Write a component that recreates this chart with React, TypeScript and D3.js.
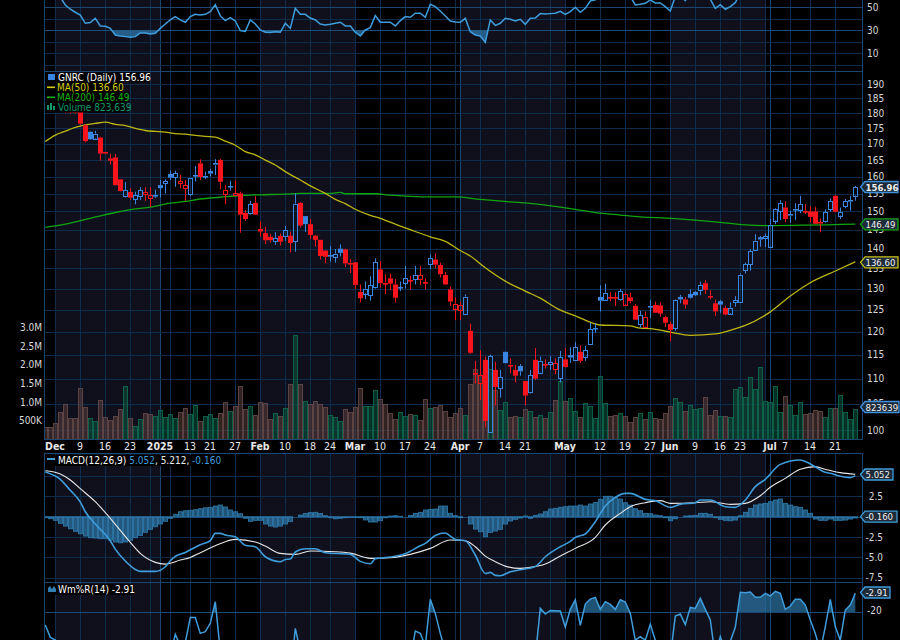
import React from "react";
import * as d3 from "d3";

// GNRC daily. Index 0 is the partly clipped first session.
const opens = [
  184,183,183,182.5,181.5,181,181.5,180.5,176,173.9,
  171.8,172,167.4,165.5,165.8,159.2,154.3,155.5,153.4,154.2,
  154.8,153.7,154.6,157.5,158,160.8,159.8,158,156.6,154.9,
  160.3,164,160.2,161.7,163.4,165,155,157.1,154.4,155.1,
  149.6,149.5,152.4,145.2,144.1,143.1,141.9,143.3,143.2,143.4,
  142,152.4,148.7,146.5,143.4,142.3,139.5,138.2,137.9,140,
  139.8,136.4,136.5,129.2,128.9,128.3,130.2,134.7,131.4,132.5,
  131,130.2,131.4,132,132.3,132.3,131.6,135.9,137.2,135.8,
  133.3,129.8,125.3,125,124.2,120.2,111.1,109,113.9,99.6,
  111.8,108,115.6,112.9,111.8,112.6,109.5,107.2,113.9,111.2,
  113,112.9,111.9,110,114,114.9,113.8,115.6,114.6,117.2,
  120.7,128,127.4,128,127.9,127.3,126.3,127.9,125.9,121.6,
  121.2,125.8,126.1,126,123.3,121.7,120.7,128,127.4,128.7,
  129.2,129.6,131.3,128.3,126.5,127,125.4,124.2,126.7,126.8,
  134.5,136,139.7,143,142.7,140.5,147.5,150.2,151.1,148.7,
  150.7,150.5,150.2,150,150,147,147.4,150.6,154.4,148.9,
  151.4,152.7,154.5,
];
const closes = [
  183,182.5,182,181.8,180.3,180.2,180.1,176.5,170.9,171.5,
  173.3,167,166.9,164.8,157.5,155.8,156,153.9,154.5,156,
  155.5,154.5,154.7,156.6,158.7,159.7,161,158.7,157.4,159.5,
  160.4,159.9,160.3,160.9,164,158.5,156.2,157.2,155.1,149.1,
  147.9,152.1,149.1,144.5,142.2,142.2,142.7,141.8,144.8,141.5,
  152.2,146.1,146.5,143.6,142.3,138.1,137.9,138.3,138.7,138.9,
  136.2,135.9,130.9,127.7,130,130.8,136.5,131.3,131.3,131.2,
  127.8,130.3,132.6,131.9,133.4,133.2,131.5,137.5,135.9,133.5,
  131,126.9,126.4,126.2,128.1,115.4,111,110.7,101.7,114.7,
  108.3,110.3,113.2,112.8,110.6,111.5,106.6,110.7,110,113.7,
  112.9,113.4,113.2,114.4,112.4,114.4,116.6,113.7,116,120.5,
  120.8,127.1,129,127.9,127.8,129.3,128.8,127,122.7,123.7,
  123.4,125.9,124.3,124.1,122,120.4,127.2,127.4,126.2,127.8,
  128.4,130.8,129.7,128.2,124.6,126.2,123.9,125.5,127.2,133.4,
  136,139.4,142.1,142.4,143.3,146.4,150.7,152.4,147.9,149.2,
  150.8,152.1,149.8,148.5,146.6,146.6,149.8,152.8,149.9,149.9,
  152.8,153.2,156.96,
];
const highs = [
  186,185,184.5,184,183,182,183,181.5,176.3,174,
  174.2,172.3,167.5,166.9,166.9,159.2,158.4,156.6,155.6,156.9,
  156.9,156.9,156.2,159,159.2,161.8,161.8,160.5,159,159.5,
  163.2,165.2,161.5,162.3,165.3,165.3,157.5,158.8,158.9,155.6,
  150.4,153,154.3,147.3,145.8,143.9,144.3,144,146,144.5,
  155.1,152.6,148.7,147.9,143.6,142.3,139.6,140.7,139.9,141.1,
  140,137.3,136.5,131,131.7,133,137.5,136.8,133.5,133.7,
  132.3,131.7,135.6,133.1,135.6,135.6,132.5,138.5,138.8,136.4,
  134.1,130.5,127.9,126.9,128.6,121.8,113.7,116,114.6,115,
  113.5,111.8,115.6,114.2,112.8,113,109.5,111.8,116.4,114.6,
  114,114.7,114.2,115.8,116.4,116.6,117.7,117,116.9,122,
  121.9,130.8,131.2,129.1,129.1,129.9,129.1,129,126.3,124.7,
  124.6,127.3,126.9,126.7,123.6,122.3,127.4,128.5,128,129.8,
  129.4,131.7,132.1,129.6,127.4,127.3,125.9,126.7,128.2,133.7,
  136.4,139.8,143.8,143.3,144,147.9,150.9,153.2,152.8,150.2,
  152.3,154.4,152,151.5,151.3,148,150.6,153.7,154.7,151.1,
  153.5,154.4,157.3,
];
const lows = [
  182.5,181.5,181.5,181,180,179.8,179.8,176.2,170.5,171.3,
  171.3,164.8,166.8,163.6,157.4,155.7,153.9,153.2,152,153.2,
  153,151.2,153.8,154,155.1,159,157,156.6,153,154.4,
  158.5,159,159.3,160,160.5,156.3,152,155.9,154.4,144.2,
  147.4,149.1,149,143.2,141.2,141.6,141,140.8,142,139,
  139.2,145.6,144.4,142.6,140.5,137.2,136.2,136.6,136.4,138,
  135.3,133.8,129.9,126.7,127.5,127.1,130,130.3,128.7,129.6,
  126.7,129.4,130,129.8,131,130.9,129.8,134.8,135,132.7,
  130.9,125.9,122.6,122.6,124.2,115.2,109,105.7,100.5,99.5,
  104.7,106.2,113.2,111.1,109.2,110.6,104.7,107,109.7,110.9,
  112.1,111.8,110.9,109.2,112.3,113.2,113.7,113.3,113.7,117.1,
  119.8,124.6,127.3,127,125.9,127.1,126.1,126.5,122.6,120.9,
  121.1,123.1,124.2,123.4,121,117.9,120.2,126.5,125.3,127.6,
  128.2,128.4,128.7,127.5,123.6,124.3,123.7,124,125.7,126.7,
  133.7,134.4,139.7,140.5,140.4,140.4,146.5,147.6,147,146.9,
  147.6,149.5,149.3,147,146.5,144.3,146.9,149.9,149.8,147.9,
  150.9,150.2,153,
];
// R = closed below the previous close, B = above. Also picks the volume colour.
const tones = [
  "RRRRRRRRRB","BRRRRRBRBB","RRBBBBBRRB","BRBBBRRBRR","RBRRRRBRBR","BRBRRRRBBB",
  "RRRRBBBRRR","RBBRBRRBRR","RRRRBRRRRB","RBBRRBRBRB","RBRBRBBRBB","BBBRRBRRRB",
  "RBRRRRBBRB","BBRRRBRBBB","BBBBBBBBRB","BBRRRRBBRB","BBB",
].join("");
const volumes = [
  .34,.32,.43,.73,.95,.56,.56,1.37,.86,.56,
  .48,1.06,.59,.51,.62,.81,1.42,.56,.35,.54,
  .70,.67,.62,.78,.59,.67,.56,.73,.83,.67,
  .91,.48,.62,.67,.56,.70,.99,.75,.89,1.42,
  .81,.89,.65,.99,.97,.54,.70,.62,.83,1.48,
  2.80,1.49,1.02,.95,1.03,.96,.87,.65,.60,.49,
  .81,.73,.87,1.38,.90,.90,1.32,1.08,.94,.70,
  .54,.73,.63,.68,.65,.51,1.08,.84,.87,.92,
  .75,.60,.71,.84,.65,1.49,1.89,1.73,2.0,1.89,
  1.33,.79,.99,.60,.63,.60,.82,.75,.60,.65,
  .57,.73,1.06,1.57,1.02,1.11,.75,.60,.97,.90,
  .57,1.70,.97,.63,.65,.70,.62,.46,.59,.70,
  .54,.73,.56,.54,.70,.89,1.10,.99,.75,.91,
  .81,.83,1.13,.65,.78,.62,.62,.59,1.34,1.40,
  1.13,1.67,1.34,1.94,1.02,.99,1.42,.73,1.16,.91,
  .65,.99,.67,.70,.78,.75,.59,.83,.83,1.18,
  .73,.54,.82,
];

const ma50Days = [0,2,4,6,8,10,12,14,16,18,20,22,24,26,28,30,32,34,36,38,40,42,44,46,48,51,53,56,58,60,62,65,67,70,73,77,80,83,85,88,92,96,99,103,106,111,117,119,121,125,129,134,137,140,145,149,153,158,162];
const ma50 = [170.8,172.8,174.1,175.3,176.1,176.6,177,176.3,175.9,175,174.3,174,173.8,173.3,173.1,172.7,172.4,172.2,170.9,169.6,167.6,166.6,165,163.5,161.5,159,157.3,155.1,153.4,152.2,150.6,148.9,148.1,146.5,145,143.1,141.9,139.5,138.1,135.1,131.8,129.4,127.7,124.9,123.6,121.5,121.3,120.8,120.7,119.9,119.2,119.5,120.3,121.4,124.5,128.2,131.4,134.3,136.6];
const ma200Days = [0,4,9,14,18,21,25,28,31,35,39,43,48,51,57,59,60,66,69,72,76,82,87,93,98,102,106,111,115,119,125,130,135,140,144,162];
const ma200 = [145.6,146.5,148.1,149.7,150.7,151.2,152.3,152.8,153.5,154,154.5,154.7,154.9,155.1,155.1,155.4,155,155,154.6,154.3,154.1,154.1,153.4,152.7,152.1,151.4,150.6,149.5,149,148.5,148.1,147.6,147,146.3,146.1,146.49];

const macdDays = [0,3,5,7,8,10,13,14,16,18,19,22,24,25,26,28,31,33,34,35,36,38,40,42,44,47,48,49,50,52,54,56,61,63,65,66,69,72,75,76,78,80,81,82,84,86,88,89,90,91,93,95,98,100,103,105,106,108,110,112,114,116,117,120,122,125,127,130,131,133,136,138,140,142,144,147,151,153,156,157,159,161,162];
const macd = [5.49,4.59,3.24,1.8,.61,-.9,-2.95,-3.98,-5.45,-6.48,-6.72,-6.72,-6.15,-5.41,-4.88,-4.39,-3.44,-2.95,-2.05,-2.05,-2.25,-2.46,-3.52,-3.69,-4.92,-5.53,-5.25,-5.2,-4.34,-3.93,-3.93,-4.43,-4.63,-5.49,-5.78,-5.16,-4.96,-4.55,-3.57,-3.28,-2.3,-2.01,-2.38,-2.79,-2.95,-4.71,-6.97,-6.84,-7.21,-7.25,-6.76,-6.52,-6.11,-4.92,-3.69,-3.03,-2.54,-2.13,-.61,1.31,2.38,2.87,2.87,2.13,1.97,1.15,1.52,1.72,2.05,2.05,1.23,1.15,2.05,3.69,4.59,6.43,6.97,6.48,5.45,5.33,4.96,4.8,5.052];
const signalDays = [0,3,5,7,10,13,17,19,22,24,27,29,31,34,36,38,42,44,47,50,53,58,61,65,69,73,77,81,84,86,88,90,92,95,97,100,103,106,110,112,115,117,120,123,125,130,133,137,140,143,145,148,151,154,156,159,162];
const signal = [5.65,5.25,4.51,3.44,1.84,-.2,-3.16,-4.51,-5.61,-5.82,-5.33,-5,-4.43,-3.57,-3.07,-2.79,-3.11,-3.61,-4.51,-4.63,-4.22,-4.3,-4.47,-5.12,-5.04,-4.63,-3.89,-2.87,-2.95,-3.69,-4.84,-5.53,-6.07,-6.35,-6.23,-5.82,-4.84,-3.89,-2.54,-1.02,.41,1.23,1.72,1.97,1.64,1.72,1.84,1.52,1.64,2.58,3.61,4.71,5.82,6.15,5.82,5.41,5.212];
const macdHist = [
  -.1,-.25,-.45,-.82,-1.15,-1.48,-1.8,-2.09,-2.38,-2.58,
  -2.62,-2.7,-2.7,-2.87,-3.11,-3.2,-3.11,-2.9,-2.58,-2.3,
  -1.93,-1.56,-1.23,-.9,-.57,-.2,.29,.61,.74,.78,
  .86,.98,1.1,1.15,1.31,1.43,1.19,.82,.61,.37,
  -.2,-.57,-.45,-.45,-.9,-1.15,-1.27,-1.15,-.9,-.6,
  0,.2,.4,.5,.53,.4,.12,-.12,-.25,-.2,
  -.12,-.08,-.08,-.12,-.4,-.65,-.65,-.49,-.12,.08,
  .12,.04,0,.16,.4,.53,.82,.9,.94,1.31,
  1.31,.41,.12,-.12,0,-.9,-1.52,-1.84,-2.46,-1.93,
  -1.76,-1.56,-.9,-.53,-.33,-.16,.08,-.2,.16,.33,
  .61,.94,1.02,1.15,1.23,1.31,1.31,1.43,1.31,1.56,
  1.76,2.13,2.5,2.5,2.34,2.17,1.72,1.43,.98,.74,
  .41,.37,.2,.12,-.12,-.49,-.25,0,.08,.12,
  .16,.41,.41,.29,-.12,-.33,-.45,-.49,-.41,.12,
  .53,1.02,1.43,1.56,1.64,1.84,2.05,2.17,1.64,1.43,
  1.23,1.15,.82,.41,-.29,-.45,-.45,-.29,-.45,-.45,
  -.41,-.29,-.16,
];

const rsi = [
  70,66,62,58.7,52,48.3,45.7,43.3,36.1,36.7,
  40.4,33.8,33.5,31.7,25.9,25.1,24.5,23.9,24.5,27.7,
  27.7,26.8,27.4,31.7,35.5,39,41.9,39,37,41.9,
  43.9,43.3,43.9,46.2,52.3,42.5,38.4,41,38.1,29.7,
  29.1,39,35.5,30.3,28.3,28,28.8,28.3,36.1,31.7,
  49.1,43.9,43.9,40.7,39,35.5,34.6,35.2,36.1,37,
  33.8,33.8,28.3,25.1,30.3,32.3,42.8,37,37,37,
  33.8,38.4,41.9,41.3,44.8,44.8,41.3,52.6,50.6,46.8,
  42.5,38.1,37.2,37,40.4,28.8,25.9,25.1,19.6,39,
  34.3,36.1,40.4,39.6,38.1,39.6,35.2,40.4,40.7,44.5,
  44.2,44.5,44.8,46.5,43.9,46.2,50,45.7,49.1,55.5,
  56.4,62,60,59,58,60,62,59.3,52,52.6,
  53.5,56.4,53.8,53.8,50.6,46.8,59.3,60,55.8,62,
  64,63,60,57,49.1,52.3,48.3,50.6,54,62,
  68,71,74,75,74,76,78,79,72,73,
  75,76,73,71,68,67,70,73,70,70,
  73,74,77,
];
const williams = [
  -31.4,-42.5,-44.9,-62,-70,-72,-76,-80,-92,-88,
  -84,-90,-88,-90,-96,-94,-88,-92,-85,-80,
  -82,-84,-80,-70,-60,-58,-39.8,-50,-47,-24.6,
  -24.6,-38.9,-37.4,-29.9,-10.5,-55,-70,-62,-68,-90,
  -92,-70,-78,-92,-95,-92,-88,-90,-72,-80,
  -34.4,-55,-52,-70,-80,-92,-92,-90,-86,-80,
  -90,-90,-97,-94,-80,-72,-50,-64,-62,-66,
  -82,-70,-60,-62,-36.8,-38.9,-50,-8.4,-21,-38.9,
  -55,-75,-80,-85,-80,-95,-96,-92,-94,-70,
  -80,-72,-58,-62,-72,-66,-85,-70,-60,-16.5,
  -21.6,-18.3,-18.6,-18.9,-33.2,-17.4,-8.7,-31.7,-12.6,-8.1,
  -6.6,-17.4,-10.5,-12.9,-17.4,-8.7,-10.8,-21,-45,-41.9,
  -45,-30.8,-45,-50,-55,-60,-23.4,-21.6,-31.1,-15.6,
  -16.5,-7.5,-17.4,-26.9,-60,-41.9,-55,-46,-33.5,-2.1,
  -2.4,-1.8,-6.6,-6.6,-3,-5.4,-1.2,-3,-17.4,-14.4,
  -8.4,-8.4,-13.5,-26.9,-38.9,-55,-32.9,-8.4,-32.9,-45,
  -18,-13.5,-2.91,
];

// Session index of each date grid line, and its label ("" = no label drawn).
const gridDays = [2,7,12,17,21,23,25,29,33,38,43,48,53,57,62,67,72,77,82,83,87,92,96,101,104,106,111,116,121,125,130,135,139,144,145,149,153,158];
const gridLabels = ["Dec","9","16","23","","2025","","13","21","27","Feb","10","18","24","Mar","10","17","24","","Apr","7","14","21","","May","","12","19","27","Jun","9","16","23","","Jul","7","14","21"];
const boldLabels = ["Dec","2025","Feb","Mar","Apr","May","Jun","Jul"];
const strongLabels = ["2025","Apr","Jul"];
// Every other month gets the navy band: start and end session.
const bandStarts = [2,43,83,125];
const bandEnds = [23,62,104,144];

const priceTicks = [190,185,180,175,170,165,160,155,150,145,140,135,130,125,120,115,110,105,100];
const volumeTicks = [.5,1,1.5,2,2.5,3];
const rsiGrid = [50,40,30,20,10,0];
const rsiLabels = [50,30,10];
const macdGrid = [5,2.5,0,-2.5,-5,-7.5];
const macdLabels = [2.5,-2.5,-5,-7.5];

const FONT = "'DejaVu Sans Condensed', 'DejaVu Sans', sans-serif";
const GRID = "#0e2c4b";
const GRID_STRONG = "#1a4670";
const BLUE = "#3f9ddc";
const CANDLE_BLUE = "#3a85e0";
const CANDLE_RED = "#f8141c";

const LEFT = 44.5;
const RIGHT = 862.5;

const x = d3.scaleLinear().domain([0, 162]).range([45.3, 855.3]);
const yPrice = d3.scaleLog().domain([100, 190]).range([430, 84]);
const yVolume = d3.scaleLinear().domain([0, 3]).range([439.3, 327.7]);
const yRsi = d3.scaleLinear().domain([0, 50]).range([64.8, 7.3]);
const yMacd = d3.scaleLinear().domain([0, 5]).range([516.7, 476]);
const yWilliams = d3.scaleLinear().domain([0, -20]).range([590, 612.3]);

const px = (v: number) => Math.round(v) + 0.5;

const volumeLabel = (v: number) => (v < 1 ? `${v * 1000}K` : `${v.toFixed(1)}M`);

const seriesPath = (days: number[], values: number[], y: (v: number) => number) =>
  d3
    .line<number>()
    .x((d) => x(days[d]))
    .y((d) => y(values[d]))
    .curve(d3.curveMonotoneX)(values.map((_, i) => i)) as string;

const allDays = closes.map((_, i) => i);

const rsiPath = d3
  .line<number>()
  .x((d) => x(d))
  .y((d) => yRsi(rsi[d]))(allDays) as string;
const rsiArea = d3
  .area<number>()
  .x((d) => x(d))
  .y0(yRsi(30))
  .y1((d) => yRsi(rsi[d]))(allDays) as string;

const williamsPath = d3
  .line<number>()
  .x((d) => x(d))
  .y((d) => yWilliams(williams[d]))(allDays) as string;
const williamsArea = d3
  .area<number>()
  .x((d) => x(d))
  .y0(yWilliams(-20))
  .y1((d) => yWilliams(williams[d]))(allDays) as string;

const Flag = ({ y, text, stroke, width, bold }: { y: number; text: string; stroke: string; width: number; bold?: boolean }) => (
  <g>
    <path
      d={`M860.5,${y} L865,${y - 5.5} H${865 + width} V${y + 5.5} H865 Z`}
      fill="#1d2a38"
      stroke={stroke}
      strokeWidth={1.3}
    />
    <text x={865.5} y={y + 3.5} fill="#f0f0f0" fontSize={9.5} fontWeight={bold ? 700 : 400}>
      {text}
    </text>
  </g>
);

const Candle = ({ i }: { i: number }) => {
  const color = tones[i] === "R" ? CANDLE_RED : CANDLE_BLUE;
  const cx = Math.round(x(i));
  const top = yPrice(Math.max(opens[i], closes[i]));
  const bottom = yPrice(Math.min(opens[i], closes[i]));
  const hollow = closes[i] > opens[i] && bottom - top >= 2;
  const thin = bottom - top < 2;
  return (
    <g>
      <rect x={cx} y={yPrice(highs[i])} width={1} height={Math.max(0, top - yPrice(highs[i]))} fill={color} />
      <rect x={cx} y={bottom} width={1} height={Math.max(0, yPrice(lows[i]) - bottom)} fill={color} />
      {thin ? (
        <rect x={cx - 2} y={Math.round(top)} width={5} height={1.6} fill={color} />
      ) : hollow ? (
        <rect x={cx - 1.5} y={px(top)} width={4} height={Math.round(bottom - top)} fill="none" stroke={color} />
      ) : (
        <rect x={cx - 2} y={top} width={5} height={bottom - top} fill={color} />
      )}
    </g>
  );
};

export default function App() {
  const wideRow = (y: number, w: number) => <rect x={45} y={y} width={w} height={10.5} fill="#000" />;
  return (
    <svg
      width={900}
      height={640}
      viewBox="0 0 900 640"
      style={{ position: "absolute", left: 0, top: 0, display: "block", background: "#000" }}
      fontFamily={FONT}
      fontSize={10}
    >
      <defs>
        <clipPath id="rsiClip"><rect x={LEFT} y={0} width={RIGHT - LEFT} height={71} /></clipPath>
        <clipPath id="rsiLow"><rect x={LEFT} y={yRsi(30)} width={RIGHT - LEFT} height={40} /></clipPath>
        <clipPath id="mainClip"><rect x={LEFT} y={71} width={RIGHT - LEFT} height={368.5} /></clipPath>
        <clipPath id="macdClip"><rect x={LEFT} y={453} width={RIGHT - LEFT} height={129} /></clipPath>
        <clipPath id="wmClip"><rect x={LEFT} y={583} width={RIGHT - LEFT} height={57} /></clipPath>
        <clipPath id="wmHigh"><rect x={LEFT} y={583} width={RIGHT - LEFT} height={yWilliams(-20) - 583} /></clipPath>
      </defs>

      {/* month bands */}
      {bandStarts.map((d, i) => (
        <g key={d} fill="#10101d">
          <rect x={x(d) - 0.3} y={0} width={x(bandEnds[i]) - x(d)} height={439.5} />
          <rect x={x(d) - 0.3} y={453} width={x(bandEnds[i]) - x(d)} height={187} />
        </g>
      ))}

      {/* date grid */}
      {gridDays.map((d, i) => {
        const strong = strongLabels.includes(gridLabels[i]);
        const gx = px(x(d) - 0.5);
        return (
          <g key={d} stroke={strong ? GRID_STRONG : GRID} strokeWidth={1}>
            <line x1={gx} x2={gx} y1={0} y2={439.5} />
            <line x1={gx} x2={gx} y1={453} y2={640} />
          </g>
        );
      })}

      {/* horizontal grids */}
      {rsiGrid.map((v) => (
        <line key={v} x1={LEFT} x2={RIGHT} y1={px(yRsi(v))} y2={px(yRsi(v))} stroke={v === 30 || v === 50 ? GRID_STRONG : GRID} />
      ))}
      {priceTicks.map((v) => (
        <line key={v} x1={LEFT} x2={RIGHT} y1={px(yPrice(v))} y2={px(yPrice(v))} stroke={GRID} />
      ))}
      {macdGrid.map((v) => (
        <line key={v} x1={LEFT} x2={RIGHT} y1={px(yMacd(v))} y2={px(yMacd(v))} stroke={v === 0 ? GRID_STRONG : GRID} />
      ))}
      <line x1={LEFT} x2={RIGHT} y1={px(yWilliams(-20))} y2={px(yWilliams(-20))} stroke={GRID_STRONG} />

      {/* RSI */}
      <g clipPath="url(#rsiClip)">
        <path d={rsiArea} fill="#2f7fb4" fillOpacity={0.7} clipPath="url(#rsiLow)" />
        <path d={rsiPath} fill="none" stroke={BLUE} strokeWidth={1.5} />
      </g>

      {/* volume, then price on top */}
      <g clipPath="url(#mainClip)">
        {volumes.map((v, i) => {
          const red = tones[i] === "R";
          return (
            <rect
              key={i}
              x={Math.round(x(i)) - 2 + 0.5}
              y={px(yVolume(v))}
              width={4}
              height={439.5 - px(yVolume(v))}
              fill={red ? "#523838" : "#0c4f3a"}
              fillOpacity={0.6}
              stroke={red ? "#654a4a" : "#0d6c50"}
              strokeOpacity={0.85}
            />
          );
        })}
        <path d={seriesPath(ma200Days, ma200, yPrice)} fill="none" stroke="#10a510" strokeWidth={1.3} />
        <path d={seriesPath(ma50Days, ma50, yPrice)} fill="none" stroke="#bdb713" strokeWidth={1.3} />
        {closes.map((_, i) => (
          <Candle key={i} i={i} />
        ))}
      </g>

      {/* MACD */}
      <g clipPath="url(#macdClip)">
        {macdHist.map((v, i) => (
          <rect
            key={i}
            x={Math.round(x(i)) - 2 + 0.5}
            y={Math.min(yMacd(v), yMacd(0))}
            width={4}
            height={Math.abs(yMacd(v) - yMacd(0))}
            fill="#2f7fb4"
            fillOpacity={0.65}
            stroke="#2f7fb4"
            strokeOpacity={0.8}
          />
        ))}
        <path d={seriesPath(signalDays, signal, yMacd)} fill="none" stroke="#e8e8e8" strokeWidth={1.1} />
        <path d={seriesPath(macdDays, macd, yMacd)} fill="none" stroke={BLUE} strokeWidth={1.6} />
      </g>

      {/* Williams %R */}
      <g clipPath="url(#wmClip)">
        <path d={williamsArea} fill="#2f7fb4" fillOpacity={0.65} clipPath="url(#wmHigh)" />
        <path d={williamsPath} fill="none" stroke={BLUE} strokeWidth={1.5} />
      </g>

      {/* panel frames */}
      <g stroke={GRID_STRONG} strokeWidth={1}>
        <line x1={LEFT} x2={LEFT} y1={0} y2={440} />
        <line x1={RIGHT} x2={RIGHT} y1={0} y2={440} />
        <line x1={LEFT} x2={LEFT} y1={453} y2={640} />
        <line x1={RIGHT} x2={RIGHT} y1={453} y2={640} />
        <line x1={LEFT} x2={RIGHT} y1={71.5} y2={71.5} />
        <line x1={LEFT} x2={RIGHT} y1={439.5} y2={439.5} />
        <line x1={LEFT} x2={RIGHT} y1={453.5} y2={453.5} />
        <line x1={LEFT} x2={RIGHT} y1={582.5} y2={582.5} />
      </g>

      {/* axis text */}
      <g fill="#d8d8d8">
        {rsiLabels.map((v) => (
          <text key={v} x={867} y={yRsi(v) + 3.5}>{v}</text>
        ))}
        {priceTicks.map((v) => (
          <text key={v} x={867} y={yPrice(v) + 3.5}>{v}</text>
        ))}
        {volumeTicks.map((v) => (
          <text key={v} x={42} y={yVolume(v) + 3.5} textAnchor="end">{volumeLabel(v)}</text>
        ))}
        {macdLabels.map((v) => (
          <text key={v} x={883} y={yMacd(v) + 3.5} textAnchor="end">{v.toFixed(1)}</text>
        ))}
        <text x={867} y={yWilliams(-20) + 2}>-20</text>
      </g>

      {/* date labels */}
      <g fill="#e8e8e8" textAnchor="middle">
        {gridLabels.map((label, i) =>
          label ? (
            <text
              key={i}
              // "7" of July is pushed left in the reference so it sits by "Jul"
              x={x(gridDays[i]) - 0.3 - (label === "7" && gridDays[i] === 149 ? 5 : 0)}
              y={450}
              fontSize={10.5}
              fontWeight={boldLabels.includes(label) ? 700 : 400}
            >
              {label}
            </text>
          ) : null
        )}
      </g>

      {/* legends */}
      {wideRow(72, 105)}
      {wideRow(82, 77)}
      {wideRow(92, 82)}
      {wideRow(102, 82)}
      <g>
        <rect x={48} y={74} width={7} height={6} fill={CANDLE_BLUE} />
        <text x={58} y={81} fill="#fff">GNRC (Daily) 156.96</text>
        <rect x={47} y={86.5} width={8} height={1.6} fill="#d3cb14" />
        <text x={57} y={91} fill="#d3cb14">MA(50) 136.60</text>
        <rect x={47} y={96.5} width={8} height={1.6} fill="#12b012" />
        <text x={57} y={101} fill="#12b012">MA(200) 146.49</text>
        <rect x={47} y={105} width={2} height={5} fill="#0e9a6e" />
        <rect x={50} y={103} width={2} height={7} fill="#0e9a6e" />
        <rect x={53} y={106} width={2} height={4} fill="#0e9a6e" />
        <text x={58} y={111} fill="#0e9a6e">Volume 823,639</text>
      </g>

      <rect x={45} y={455} width={169} height={11} fill="#000" />
      <rect x={47} y={458} width={8} height={2} fill={BLUE} />
      <text x={58} y={463.5} fill="#fff">
        MACD(12,26,9) <tspan fill={BLUE}>5.052</tspan>, <tspan fill="#e8e8e8">5.212</tspan>, <tspan fill={BLUE}>-0.160</tspan>
      </text>

      <rect x={46} y={584} width={88} height={11} fill="#000" />
      <path d="M48,592 V588 L50,586 L52,589 L54,586 L56,589 V592 Z" fill="#2f7fb4" />
      <text x={58} y={592.5} fill="#fff">Wm%R(14) -2.91</text>

      {/* last value flags */}
      <Flag y={187} text="156.96" stroke="#3f8fdc" width={33} bold />
      <Flag y={224.3} text="146.49" stroke="#12a512" width={33} />
      <Flag y={262.3} text="136.60" stroke="#c9c317" width={33} />
      <Flag y={407} text="823639" stroke="#3f8fdc" width={34} />
      <Flag y={474.5} text="5.052" stroke="#3f9ddc" width={28} />
      <Flag y={516.7} text="-0.160" stroke="#3f9ddc" width={32} />
      <Flag y={592.5} text="-2.91" stroke="#3f9ddc" width={25} />
    </svg>
  );
}
